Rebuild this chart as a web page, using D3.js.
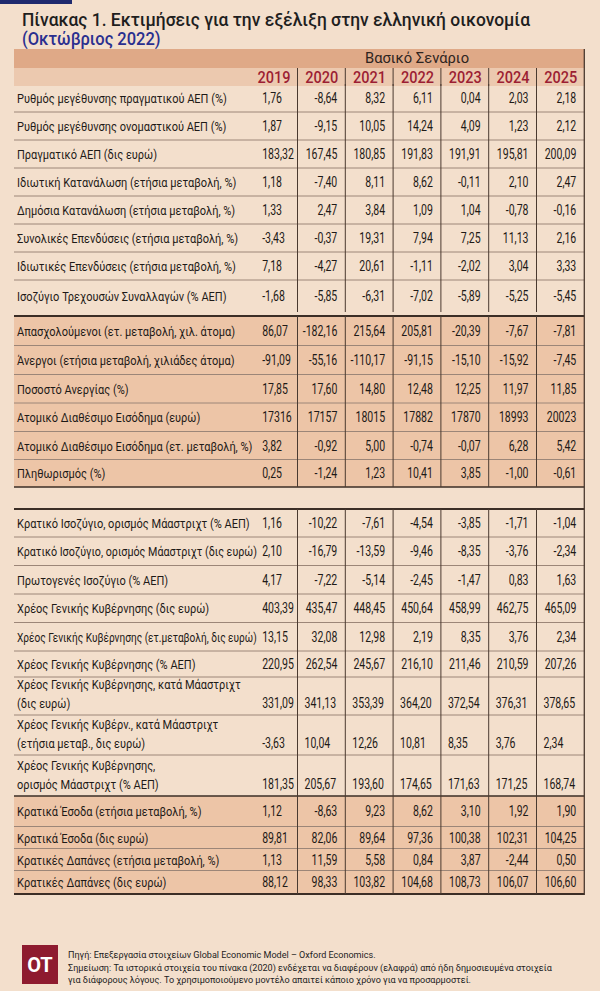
<!DOCTYPE html>
<html><head><meta charset="utf-8">
<script src="https://cdn.jsdelivr.net/npm/d3@7"></script>
<style>body{margin:0;background:#F3DFCC;} svg{display:block}</style>
</head><body><svg id="c" width="600" height="991"></svg>
<script>
// ---------------- DATA ----------------
const titleText = "Πίνακας 1. Εκτιμήσεις για την εξέλιξη στην ελληνική οικονομία";
const subtitleText = "(Οκτώβριος 2022)";
const scenarioText = "Βασικό Σενάριο";
const years = ["2019","2020","2021","2022","2023","2024","2025"];

const labels = [
  "Ρυθμός μεγέθυνσης πραγματικού ΑΕΠ (%)",
  "Ρυθμός μεγέθυνσης ονομαστικού ΑΕΠ (%)",
  "Πραγματικό ΑΕΠ (δις ευρώ)",
  "Ιδιωτική Κατανάλωση (ετήσια μεταβολή, %)",
  "Δημόσια Κατανάλωση (ετήσια μεταβολή, %)",
  "Συνολικές Επενδύσεις (ετήσια μεταβολή, %)",
  "Ιδιωτικές Επενδύσεις (ετήσια μεταβολή, %)",
  "Ισοζύγιο Τρεχουσών Συναλλαγών (% ΑΕΠ)",
  "Απασχολούμενοι (ετ. μεταβολή, χιλ. άτομα)",
  "Άνεργοι (ετήσια μεταβολή, χιλιάδες άτομα)",
  "Ποσοστό Ανεργίας (%)",
  "Ατομικό Διαθέσιμο Εισόδημα (ευρώ)",
  "Ατομικό Διαθέσιμο Εισόδημα (ετ. μεταβολή, %)",
  "Πληθωρισμός (%)",
  "Κρατικό Ισοζύγιο, ορισμός Μάαστριχτ (% ΑΕΠ)",
  "Κρατικό Ισοζύγιο, ορισμός Μάαστριχτ (δις ευρώ)",
  "Πρωτογενές Ισοζύγιο (% ΑΕΠ)",
  "Χρέος Γενικής Κυβέρνησης (δις ευρώ)",
  "Χρέος Γενικής Κυβέρνησης (ετ.μεταβολή, δις ευρώ)",
  "Χρέος Γενικής Κυβέρνησης (% ΑΕΠ)",
  "Χρέος Γενικής Κυβέρνησης, κατά Μάαστριχτ|(δις ευρώ)",
  "Χρέος Γενικής Κυβέρν., κατά Μάαστριχτ|(ετήσια μεταβ., δις ευρώ)",
  "Χρέος Γενικής Κυβέρνησης,|ορισμός Μάαστριχτ (% ΑΕΠ)",
  "Κρατικά Έσοδα (ετήσια μεταβολή, %)",
  "Κρατικά Έσοδα (δις ευρώ)",
  "Κρατικές Δαπάνες (ετήσια μεταβολή, %)",
  "Κρατικές Δαπάνες (δις ευρώ)"
];

const values = [
  [1.76, -8.64, 8.32, 6.11, 0.04, 2.03, 2.18],
  [1.87, -9.15, 10.05, 14.24, 4.09, 1.23, 2.12],
  [183.32, 167.45, 180.85, 191.83, 191.91, 195.81, 200.09],
  [1.18, -7.40, 8.11, 8.62, -0.11, 2.10, 2.47],
  [1.33, 2.47, 3.84, 1.09, 1.04, -0.78, -0.16],
  [-3.43, -0.37, 19.31, 7.94, 7.25, 11.13, 2.16],
  [7.18, -4.27, 20.61, -1.11, -2.02, 3.04, 3.33],
  [-1.68, -5.85, -6.31, -7.02, -5.89, -5.25, -5.45],
  [86.07, -182.16, 215.64, 205.81, -20.39, -7.67, -7.81],
  [-91.09, -55.16, -110.17, -91.15, -15.10, -15.92, -7.45],
  [17.85, 17.60, 14.80, 12.48, 12.25, 11.97, 11.85],
  [17316, 17157, 18015, 17882, 17870, 18993, 20023],
  [3.82, -0.92, 5.00, -0.74, -0.07, 6.28, 5.42],
  [0.25, -1.24, 1.23, 10.41, 3.85, -1.00, -0.61],
  [1.16, -10.22, -7.61, -4.54, -3.85, -1.71, -1.04],
  [2.10, -16.79, -13.59, -9.46, -8.35, -3.76, -2.34],
  [4.17, -7.22, -5.14, -2.45, -1.47, 0.83, 1.63],
  [403.39, 435.47, 448.45, 450.64, 458.99, 462.75, 465.09],
  [13.15, 32.08, 12.98, 2.19, 8.35, 3.76, 2.34],
  [220.95, 262.54, 245.67, 216.10, 211.46, 210.59, 207.26],
  [331.09, 341.13, 353.39, 364.20, 372.54, 376.31, 378.65],
  [-3.63, 10.04, 12.26, 10.81, 8.35, 3.76, 2.34],
  [181.35, 205.67, 193.60, 174.65, 171.63, 171.25, 168.74],
  [1.12, -8.63, 9.23, 8.62, 3.10, 1.92, 1.90],
  [89.81, 82.06, 89.64, 97.36, 100.38, 102.31, 104.25],
  [1.13, 11.59, 5.58, 0.84, 3.87, -2.44, 0.50],
  [88.12, 98.33, 103.82, 104.68, 108.73, 106.07, 106.60]
];
const integerRows = [11];
const noteLines = [
  "Πηγή: Επεξεργασία στοιχείων Global Economic Model – Oxford Economics.",
  "Σημείωση: Τα ιστορικά στοιχεία του πίνακα (2020) ενδέχεται να διαφέρουν (ελαφρά) από ήδη δημοσιευμένα στοιχεία",
  "για διάφορους λόγους. Το χρησιμοποιούμενο μοντέλο απαιτεί κάποιο χρόνο για να προσαρμοστεί."
];
const logoText = "OT";

// ---------------- LAYOUT / STYLE ----------------
const C = {
  bg: "#F3DFCC", band1: "#DFA987", band2: "#ECC9AF", shade: "#EDC5A7",
  thin: "#9C8678", vline: "#4A3A30", thick: "#3B2E26",
  year: "#9C1E33", title: "#1E1E1E", sub: "#2A2F8F", bar: "#1F2A6E",
  text: "#1E1A17", logo: "#8E1B2F"
};
const T0 = 14, T1 = 584.3, V0 = 249.7;
const FONT = "Roboto";
const sections = [
  {from: 0, to: 8, top: 84, heights: [28,28,28,28,28,28,28,32], shaded: false, topRule: 0},
  {from: 8, to: 14, top: 316, heights: [29.5,29,28.5,28.5,28,27.5], shaded: true, topRule: 2, bottomRule: 1.5},
  {from: 14, to: 23, top: 509, heights: [28,28.5,28.5,28.5,28.5,26,38,40,41], shaded: false, topRule: 2},
  {from: 23, to: 27, top: 796, heights: [30.5,22,22,23.5], shaded: true, topRule: 1.5, bottomRule: 2}
];
const leftAlignedRows = [20, 21, 22];
const maxLabelW = 240;

const svg = d3.select("#c");
svg.append("rect").attr("width", 600).attr("height", 991).attr("fill", C.bg);

function measure(str, size, weight) {
  const t = svg.append("text").attr("font-family", FONT).attr("font-size", size)
    .attr("font-weight", weight || 400).text(str);
  const w = t.node().getComputedTextLength(); t.remove(); return w;
}
function putText(parent, str, x, y, o) {
  const g = parent.append("g").attr("transform", `translate(${x},${y}) scale(${o.sx || 1},1)`);
  return g.append("text").attr("font-family", FONT).attr("font-size", o.size)
    .attr("font-weight", o.weight || 400).attr("fill", o.fill || C.text)
    .attr("text-anchor", o.anchor || "start").text(str);
}

const locale = d3.formatLocale({decimal: ",", thousands: ".", grouping: [3], currency: ["", "€"], minus: "-"});
const f2 = locale.format(".2f"), f0 = locale.format(".0f");

const x = d3.scaleBand().domain(years).range([V0, T1]).padding(0);

// ---- top bar, title ----
svg.append("rect").attr("x", 0).attr("y", 0).attr("width", 72).attr("height", 4).attr("fill", C.bar);
const titleSx = 508 / measure(titleText, 19, 500);
putText(svg, titleText, 22, 26, {size: 19, weight: 500, fill: C.title, sx: titleSx});
putText(svg, subtitleText, 22, 45, {size: 18, weight: 500, fill: C.sub, sx: titleSx});

// ---- header bands ----
svg.append("rect").attr("x", T0).attr("y", 49).attr("width", T1 - T0).attr("height", 19).attr("fill", C.band1);
svg.append("rect").attr("x", T0).attr("y", 68).attr("width", T1 - T0).attr("height", 18).attr("fill", C.band2);
putText(svg, scenarioText, (V0 + T1) / 2, 63, {size: 15.5, anchor: "middle", fill: "#2E2420", sx: 0.95});
const yearSx = 33 / measure("2022", 16, 500);
svg.append("g").selectAll("g").data(years).join(g => g.append("g")).each(function(d) {
  putText(d3.select(this), d, x(d) + x.bandwidth() - 7, 83, {size: 16, weight: 500, fill: C.year, anchor: "end", sx: yearSx});
});

// ---- rows ----
const labelSx = 210 / measure(labels[0], 13.5, 400);
const valueSx = 31.7 / measure("183,32", 14, 400);
const rowsG = svg.append("g");
const gridG = svg.append("g");
const vlineSegs = [{y0: 68, y1: 86}];

sections.forEach(sec => {
  let y = sec.top;
  const total = d3.sum(sec.heights);
  if (sec.shaded) rowsG.append("rect").attr("x", T0).attr("y", sec.top).attr("width", T1 - T0).attr("height", total).attr("fill", C.shade);
  vlineSegs.push({y0: sec.top, y1: sec.top + total});
  d3.range(sec.from, sec.to).forEach((r, i) => {
    const h = sec.heights[i];
    if (i > 0) gridG.append("line").attr("x1", T0).attr("x2", T1).attr("y1", y).attr("y2", y)
      .attr("stroke", C.thin).attr("stroke-width", 1);
    const parts = labels[r].split("|");
    const base = y + h - 12 + 5;
    const cy = parts.length === 1 ? y + h / 2 + 5 : base;
    parts.forEach((p, k) => {
      const ly = cy - (parts.length - 1 - k) * 19;
      const w = measure(p, 13.5, 400) * labelSx;
      const sx = w > maxLabelW ? labelSx * maxLabelW / w : labelSx;
      putText(rowsG, p, 17, ly, {size: 13.5, sx: sx});
    });
    const fmt = integerRows.includes(r) ? f0 : f2;
    const leftRow = leftAlignedRows.includes(r);
    years.forEach((yr, j) => {
      const v = fmt(values[r][j]);
      if (j === 0) putText(rowsG, v, x(yr) + 12.5, cy, {size: 14, sx: valueSx});
      else if (leftRow) putText(rowsG, v, x(yr) + 7, cy, {size: 14, sx: valueSx});
      else putText(rowsG, v, x(yr) + x.bandwidth() - 8, cy, {size: 14, sx: valueSx, anchor: "end"});
    });
    y += h;
  });
  if (sec.topRule) gridG.append("line").attr("x1", T0).attr("x2", T1).attr("y1", sec.top).attr("y2", sec.top)
    .attr("stroke", C.thick).attr("stroke-width", sec.topRule);
  if (sec.bottomRule) gridG.append("line").attr("x1", T0).attr("x2", T1).attr("y1", y).attr("y2", y)
    .attr("stroke", C.thick).attr("stroke-width", sec.bottomRule);
});

vlineSegs.forEach(s => {
  years.slice(1).forEach(yr => {
    gridG.append("line").attr("x1", x(yr)).attr("x2", x(yr)).attr("y1", s.y0).attr("y2", s.y1)
      .attr("stroke", C.vline).attr("stroke-width", 1);
  });
});
gridG.append("line").attr("x1", T1).attr("x2", T1).attr("y1", 49).attr("y2", 895)
  .attr("stroke", C.vline).attr("stroke-width", 1.3);

// ---- footer ----
svg.append("rect").attr("x", 22).attr("y", 945).attr("width", 36).attr("height", 39).attr("fill", C.logo);
svg.append("text").attr("x", 40).attr("y", 972).attr("text-anchor", "middle").attr("font-family", FONT)
  .attr("font-size", 20).attr("font-weight", 700).attr("fill", "#fff").text(logoText);
const noteSx = 485 / measure(noteLines[1], 9.5, 400);
noteLines.forEach((l, i) => putText(svg, l, 68, 958 + i * 12.5, {size: 9.5, sx: noteSx, fill: "#222"}));
</script>
</body></html>
